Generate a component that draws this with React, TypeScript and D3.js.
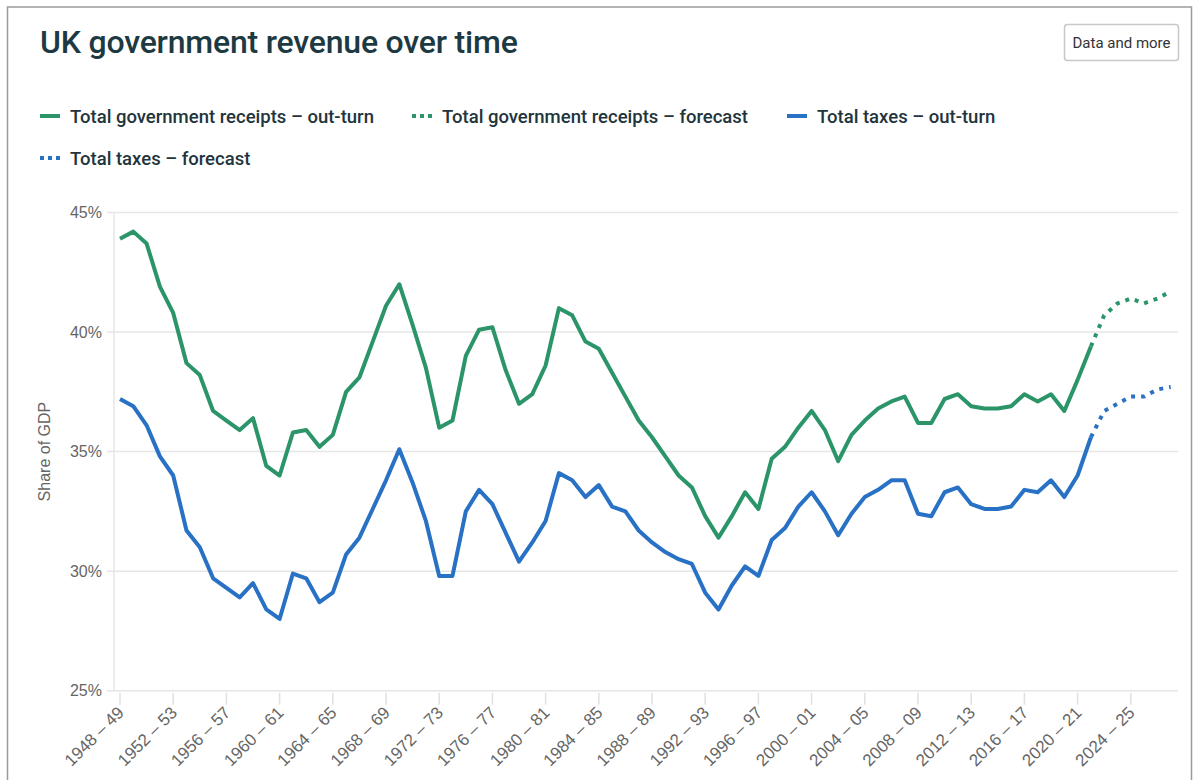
import React, { useEffect } from "react";
import * as d3 from "d3";

// fiscal years 1948-49 .. 2027-28
const startYears = d3.range(1948, 2028);
const categories = startYears.map((y) => `${y} – ${String((y + 1) % 100).padStart(2, "0")}`);

const tickLabels = [
  "1948 – 49", "1952 – 53", "1956 – 57", "1960 – 61", "1964 – 65", "1968 – 69", "1972 – 73",
  "1976 – 77", "1980 – 81", "1984 – 85", "1988 – 89", "1992 – 93", "1996 – 97", "2000 – 01",
  "2004 – 05", "2008 – 09", "2012 – 13", "2016 – 17", "2020 – 21", "2024 – 25",
];

const yTicks = [25, 30, 35, 40, 45];

// out-turn: 1948-49 .. 2021-22
const receiptsOutturn = [
  43.9, 44.2, 43.7, 41.9, 40.8, 38.7, 38.2, 36.7, 36.3, 35.9,
  36.4, 34.4, 34.0, 35.8, 35.9, 35.2, 35.7, 37.5, 38.1, 39.6,
  41.1, 42.0, 40.3, 38.5, 36.0, 36.3, 39.0, 40.1, 40.2, 38.4,
  37.0, 37.4, 38.6, 41.0, 40.7, 39.6, 39.3, 38.3, 37.3, 36.3,
  35.6, 34.8, 34.0, 33.5, 32.3, 31.4, 32.3, 33.3, 32.6, 34.7,
  35.2, 36.0, 36.7, 35.9, 34.6, 35.7, 36.3, 36.8, 37.1, 37.3,
  36.2, 36.2, 37.2, 37.4, 36.9, 36.8, 36.8, 36.9, 37.4, 37.1,
  37.4, 36.7, 38.0, 39.4,
];
const taxesOutturn = [
  37.2, 36.9, 36.1, 34.8, 34.0, 31.7, 31.0, 29.7, 29.3, 28.9,
  29.5, 28.4, 28.0, 29.9, 29.7, 28.7, 29.1, 30.7, 31.4, 32.6,
  33.8, 35.1, 33.7, 32.1, 29.8, 29.8, 32.5, 33.4, 32.8, 31.6,
  30.4, 31.2, 32.1, 34.1, 33.8, 33.1, 33.6, 32.7, 32.5, 31.7,
  31.2, 30.8, 30.5, 30.3, 29.1, 28.4, 29.4, 30.2, 29.8, 31.3,
  31.8, 32.7, 33.3, 32.5, 31.5, 32.4, 33.1, 33.4, 33.8, 33.8,
  32.4, 32.3, 33.3, 33.5, 32.8, 32.6, 32.6, 32.7, 33.4, 33.3,
  33.8, 33.1, 34.0, 35.6,
];
// forecast: 2021-22 .. 2027-28
const receiptsForecast = [39.4, 40.7, 41.2, 41.4, 41.2, 41.4, 41.7];
const taxesForecast = [35.6, 36.7, 37.0, 37.3, 37.3, 37.6, 37.7];

const GREEN = "#2b9569";
const BLUE = "#2871c4";
const AXIS_FONT = "'Liberation Sans', Arial, sans-serif";
const TITLE_FONT = "Roboto, 'Noto Sans', sans-serif";

const width = 1195;
const height = 780;

export default function App() {
  useEffect(() => {
    document.body.style.margin = "0";
  }, []);

  const x = d3.scalePoint<string>().domain(categories).range([120, 1170.7]);
  const y = d3.scaleLinear().domain([25, 45]).range([690.7, 212.5]);

  const forecastStart = receiptsOutturn.length - 1;
  const mk = (vals: number[], offset: number) =>
    vals.map((v, i) => ({ c: categories[i + offset], v }));

  const line = d3
    .line<{ c: string; v: number }>()
    .x((d) => x(d.c) as number)
    .y((d) => y(d.v));

  const series = [
    { d: mk(receiptsOutturn, 0), color: GREEN, dash: null },
    { d: mk(taxesOutturn, 0), color: BLUE, dash: null },
    { d: mk(receiptsForecast, forecastStart), color: GREEN, dash: "4 6" },
    { d: mk(taxesForecast, forecastStart), color: BLUE, dash: "4 6" },
  ];

  const legend = [
    { label: "Total government receipts – out-turn", color: GREEN, dash: null, x: 40, y: 116 },
    { label: "Total government receipts – forecast", color: GREEN, dash: "4 4", x: 412, y: 116 },
    { label: "Total taxes – out-turn", color: BLUE, dash: null, x: 787, y: 116 },
    { label: "Total taxes – forecast", color: BLUE, dash: "4 4", x: 40, y: 158 },
  ];

  return (
    <div style={{ position: "absolute", left: 0, top: 0 }}>
      <svg width={width} height={height} style={{ display: "block", background: "#fff" }}>
        {/* frame */}
        <rect x={7.5} y={7} width={1184} height={800} fill="none" stroke="#9a9a9a" strokeWidth={1.5} />

        <text x={40} y={53} fontFamily={TITLE_FONT} fontSize={32} fontWeight={500} fill="#1d3942" letterSpacing={-0.2}>
          UK government revenue over time
        </text>

        <g>
          <rect x={1064.5} y={24.5} width={114} height={36} rx={3} fill="#fff" stroke="#c8c8c8" strokeWidth={1.5} />
          <text x={1121.5} y={47.5} textAnchor="middle" fontFamily={TITLE_FONT} fontSize={15} fill="#333">
            Data and more
          </text>
        </g>

        {legend.map((l) => (
          <g key={l.label}>
            <line
              x1={l.x}
              x2={l.x + 20}
              y1={l.y}
              y2={l.y}
              stroke={l.color}
              strokeWidth={4}
              strokeDasharray={l.dash ?? undefined}
            />
            <text x={l.x + 30} y={l.y + 6.5} fontFamily={TITLE_FONT} fontSize={18.5} fontWeight={500} fill="#22343c">
              {l.label}
            </text>
          </g>
        ))}

        {/* grid */}
        {yTicks.map((t) => (
          <g key={t}>
            <line x1={107} x2={1178} y1={y(t)} y2={y(t)} stroke="#e6e6e6" strokeWidth={1.5} />
            <text x={102} y={y(t) + 5.5} textAnchor="end" fontFamily={AXIS_FONT} fontSize={16} fill="#666">
              {t}%
            </text>
          </g>
        ))}
        <line x1={114} x2={114} y1={y(45)} y2={y(25)} stroke="#e6e6e6" strokeWidth={1.5} />

        <text
          transform={`translate(50,${(y(45) + y(25)) / 2}) rotate(-90)`}
          textAnchor="middle"
          fontFamily={AXIS_FONT}
          fontSize={16}
          fill="#666"
        >
          Share of GDP
        </text>

        {/* x axis ticks */}
        {tickLabels.map((t) => {
          const px = x(t) as number;
          return (
            <g key={t}>
              <line x1={px} x2={px} y1={y(25) + 2} y2={y(25) + 14} stroke="#e0e0e0" strokeWidth={1.5} />
              <text
                transform={`translate(${px + 5},${y(25) + 23}) rotate(-45)`}
                textAnchor="end"
                fontFamily={AXIS_FONT}
                fontSize={17}
                fill="#666"
              >
                {t}
              </text>
            </g>
          );
        })}

        {series.map((s, i) => (
          <path
            key={i}
            d={line(s.d) ?? ""}
            fill="none"
            stroke={s.color}
            strokeWidth={4}
            strokeLinejoin="round"
            strokeDasharray={s.dash ?? undefined}
          />
        ))}
      </svg>
    </div>
  );
}
